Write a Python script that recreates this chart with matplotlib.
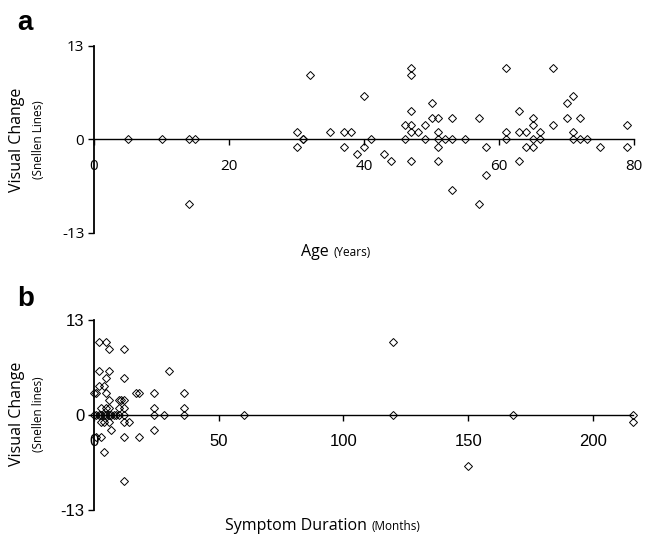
import matplotlib.pyplot as plt

plt.rcParams['axes.unicode_minus'] = False

# panel a: age (years) vs visual change (Snellen lines)
age = [5, 10, 14, 15, 14, 30, 30, 31, 31, 32, 35, 37, 38, 37, 39, 40, 40, 41, 43, 44,
       46, 46, 47, 47, 47, 47, 47, 48, 47, 49, 49, 50, 50, 51, 51, 51, 51, 51, 52,
       53, 53, 53, 55, 57, 57, 58, 58, 61, 61, 61, 63, 63, 63, 64, 64, 65, 65, 65,
       65, 66, 66, 68, 68, 70, 70, 71, 71, 71, 72, 72, 73, 75, 79, 79]
change_a = [0, 0, 0, 0, -9, 1, -1, 0, 0, 9, 1, 1, 1, -1, -2, 6, -1, 0, -2, -3,
            2, 0, 10, 9, 4, 2, 1, 1, -3, 2, 0, 5, 3, 3, 1, 0, -1, -3, 0,
            3, 0, -7, 0, 3, -9, -1, -5, 10, 1, 0, 4, 1, -3, 1, -1, 3, 2, 0,
            -1, 1, 0, 10, 2, 5, 3, 6, 1, 0, 3, 0, 0, -1, 2, -1]

# panel b: symptom duration (months) vs visual change
duration = [2, 5, 120,
            6, 12,
            2, 6, 30,
            5, 12,
            2, 4,
            0, 1, 5, 17, 18, 24, 36,
            6, 10, 11, 12,
            3, 5, 6, 10, 12, 24, 36,
            0, 1, 2, 3, 4, 5, 6, 7, 8, 9, 10, 12, 24, 28, 36, 60, 120, 168, 216,
            3, 4, 6, 12, 14, 216,
            7, 24,
            1, 3, 12, 18,
            4,
            150,
            12]
change_b = [10, 10, 10,
            9, 9,
            6, 6, 6,
            5, 5,
            4, 4,
            3, 3, 3, 3, 3, 3, 3,
            2, 2, 2, 2,
            1, 1, 1, 1, 1, 1, 1,
            0, 0, 0, 0, 0, 0, 0, 0, 0, 0, 0, 0, 0, 0, 0, 0, 0, 0, 0,
            -1, -1, -1, -1, -1, -1,
            -2, -2,
            -3, -3, -3, -3,
            -5,
            -7,
            -9]

fig = plt.figure(figsize=(6.46, 5.38), dpi=100)
ax1 = fig.add_axes([0.1455, 0.567, 0.836, 0.3476])
ax2 = fig.add_axes([0.1455, 0.052, 0.834, 0.3532])

label_font = 'Open Sans'


def style(ax, xmax, xticks, tick_font, tick_size):
    ax.set_xlim(0, xmax)
    ax.set_ylim(-13, 13)
    ax.spines['top'].set_visible(False)
    ax.spines['right'].set_visible(False)
    ax.spines['bottom'].set_position(('data', 0))
    ax.spines['bottom'].set_linewidth(1.0)
    ax.spines['left'].set_linewidth(1.3)
    ax.set_yticks([-13, 0, 13])
    ax.set_xticks(xticks)
    ax.tick_params(axis='y', direction='out', length=4, width=1.0, pad=3,
                   labelsize=tick_size)
    ax.tick_params(axis='x', direction='out', length=4, width=1.0, pad=10,
                   labelsize=tick_size)
    for t in ax.get_xticklabels() + ax.get_yticklabels():
        t.set_fontfamily(tick_font)


style(ax1, 80, [0, 20, 40, 60, 80], label_font, 11)
style(ax2, 216, [0, 50, 100, 150, 200], 'Liberation Sans', 12)

for ax, x, y in [(ax1, age, change_a), (ax2, duration, change_b)]:
    ax.plot(x, y, linestyle='none', marker='D', markersize=3.6,
            markerfacecolor='none', markeredgecolor='black',
            markeredgewidth=0.7, clip_on=False, zorder=5)

# panel letters
fig.text(0.026, 0.958, 'a', fontsize=20, fontweight='bold',
         family='Liberation Sans', va='center')
fig.text(0.026, 0.444, 'b', fontsize=20, fontweight='bold',
         family='Liberation Sans', va='center')

# y labels
for yc, sub in [(1 - 140 / 538, '(Snellen Lines)'), (1 - 414 / 538, '(Snellen lines)')]:
    fig.text(17 / 646, yc, 'Visual Change', rotation=90, fontsize=11.5,
             family=label_font, ha='center', va='center')
    fig.text(38 / 646, yc, sub, rotation=90, fontsize=8.5,
             family=label_font, ha='center', va='center')

# x labels
fig.text(329 / 646, 1 - 252 / 538, 'Age', fontsize=11.5, family=label_font,
         ha='right', va='center')
fig.text(334 / 646, 1 - 252 / 538, '(Years)', fontsize=8.5, family=label_font,
         ha='left', va='center')
fig.text(367 / 646, 1 - 526 / 538, 'Symptom Duration', fontsize=11.5,
         family=label_font, ha='right', va='center')
fig.text(372 / 646, 1 - 526 / 538, '(Months)', fontsize=8.5, family=label_font,
         ha='left', va='center')

plt.savefig('out.png', dpi=100)
